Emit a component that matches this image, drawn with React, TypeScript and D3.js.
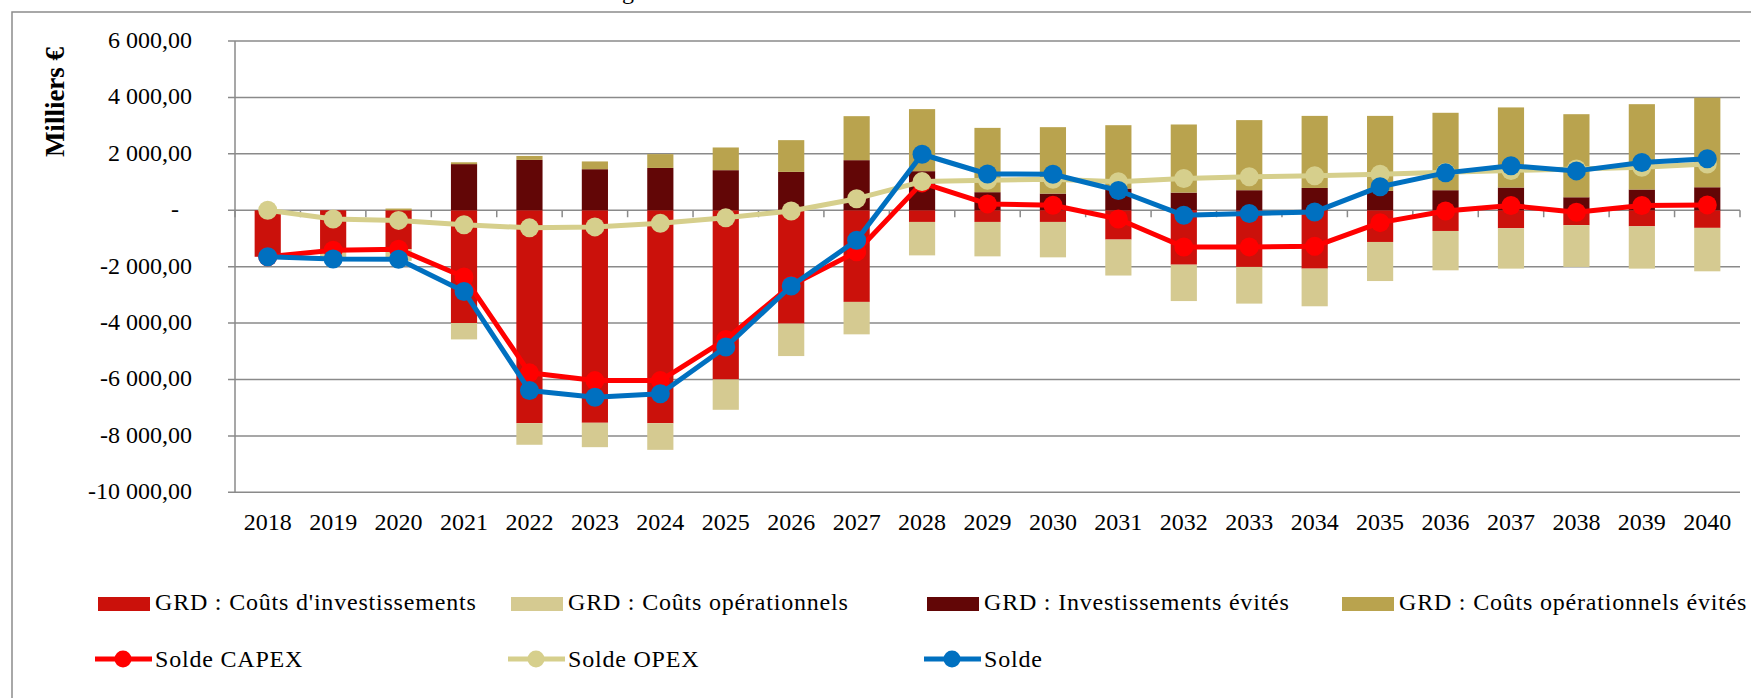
import React from "react";
import * as d3 from "d3";

const years = ["2018","2019","2020","2021","2022","2023","2024","2025","2026","2027","2028","2029","2030","2031","2032","2033","2034","2035","2036","2037","2038","2039","2040"];

// Stacked bars (thousand €)
const investCosts = [1650,1420,1380,4000,7550,7535,7550,6000,4020,3250,415,415,415,1040,1930,2010,2070,1125,735,640,530,570,625];
const opCosts = [0,310,420,580,765,865,945,1075,1150,1150,1185,1220,1255,1275,1290,1300,1335,1385,1395,1430,1480,1500,1540];
const avoidedInvest = [0,0,0,1635,1785,1455,1500,1420,1360,1775,1385,640,590,770,625,710,790,685,710,805,460,735,815];
const avoidedOpex = [0,0,60,65,140,275,490,805,1125,1560,2200,2280,2355,2245,2415,2485,2555,2660,2745,2840,2945,3025,3175];

// Lines
const soldeCapex = [-1650,-1420,-1380,-2365,-5765,-6040,-6040,-4580,-2660,-1475,970,225,175,-310,-1305,-1300,-1280,-440,-25,165,-70,165,190];
const soldeOpex = [0,-310,-360,-515,-625,-590,-465,-270,-25,410,1015,1060,1100,1010,1125,1185,1220,1275,1350,1410,1465,1525,1635];
const solde = [-1650,-1730,-1740,-2880,-6390,-6630,-6505,-4850,-2685,-1065,1985,1285,1275,700,-180,-115,-60,835,1325,1575,1395,1690,1825];

const yTicks = [6000,4000,2000,0,-2000,-4000,-6000,-8000,-10000];

const barLegend = [
  "GRD : Coûts d'investissements",
  "GRD : Coûts opérationnels",
  "GRD : Investissements évités",
  "GRD : Coûts opérationnels évités",
];
const lineLegend = ["Solde CAPEX", "Solde OPEX", "Solde"];

const C_INV = "#CB110B";
const C_OP = "#D5CA91";
const C_AINV = "#620606";
const C_AOP = "#B9A34E";
const C_CAPEX = "#FF0000";
const C_OPEX = "#D6CF8C";
const C_SOLDE = "#0070C0";

const FONT = "'Liberation Serif', 'Times New Roman', serif";

export default function App() {
  const W = 1751, H = 698;
  const left = 235, right = 1740, top = 41, bottom = 492.3;

  const x = d3.scaleBand<string>().domain(years).range([left, right]).paddingInner(0.6).paddingOuter(0.3);
  const y = d3.scaleLinear().domain([-10000, 6000]).range([bottom, top]);
  const step = x.step();
  const bw = x.bandwidth();
  const cx = (i: number) => (x(years[i]) as number) + bw / 2;

  const locale = d3.formatLocale({ decimal: ",", thousands: "\u00a0", grouping: [3], currency: ["", "€"], minus: "-" });
  const fmt = locale.format(",.2f");

  const lineGen = d3.line<number>().x((_, i) => cx(i)).y((v) => y(v));

  const lineSeries = [
    { vals: soldeCapex, color: C_CAPEX },
    { vals: soldeOpex, color: C_OPEX },
    { vals: solde, color: C_SOLDE },
  ];

  const legendCols = [98, 511, 927, 1342];
  const barColors = [C_INV, C_OP, C_AINV, C_AOP];
  const lineColors = [C_CAPEX, C_OPEX, C_SOLDE];

  return (
    <svg width={W} height={H} style={{ position: "absolute", left: 0, top: 0, background: "#fff" }} fontFamily={FONT}>
      <rect x={0} y={0} width={W} height={H} fill="#fff" />
      {/* cut-off title descender, as in the source */}
      <text x={622} y={-1} fontSize={24} fill="#000">g</text>
      {/* outer frame */}
      <rect x={12} y={12} width={W + 20} height={H + 20} fill="none" stroke="#8c8c8c" strokeWidth={1.5} />

      {/* gridlines */}
      {yTicks.map((t) => (
        <g key={t}>
          <line x1={left - 7} x2={right} y1={y(t)} y2={y(t)} stroke="#8a8a8a" strokeWidth={1.5} />
          {t === 0 ? (
            <text x={175} y={y(t) + 7} fontSize={24} textAnchor="middle" fill="#000">-</text>
          ) : (
            <text x={192} y={y(t) + 7} fontSize={24} textAnchor="end" fill="#000">{fmt(t)}</text>
          )}
        </g>
      ))}
      <line x1={left} x2={left} y1={top} y2={bottom} stroke="#8a8a8a" strokeWidth={1.5} />

      {/* bars */}
      {years.map((yr, i) => {
        const x0 = x(yr) as number;
        const r1 = investCosts[i], r2 = opCosts[i], p1 = avoidedInvest[i], p2 = avoidedOpex[i];
        return (
          <g key={yr}>
            <rect x={x0} width={bw} y={y(0)} height={y(-r1) - y(0)} fill={C_INV} />
            <rect x={x0} width={bw} y={y(-r1)} height={y(-r1 - r2) - y(-r1)} fill={C_OP} />
            <rect x={x0} width={bw} y={y(p1)} height={y(0) - y(p1)} fill={C_AINV} />
            <rect x={x0} width={bw} y={y(p1 + p2)} height={y(p1) - y(p1 + p2)} fill={C_AOP} />
          </g>
        );
      })}

      {/* category ticks */}
      {d3.range(years.length + 1).map((k) => (
        <line key={k} x1={left + k * step} x2={left + k * step} y1={y(0)} y2={y(0) + 7} stroke="#8a8a8a" strokeWidth={1.5} />
      ))}

      {/* lines */}
      {lineSeries.map((s, si) => (
        <g key={si}>
          <path d={lineGen(s.vals) || ""} fill="none" stroke={s.color} strokeWidth={5} strokeLinejoin="round" />
          {s.vals.map((v, i) => (
            <circle key={i} cx={cx(i)} cy={y(v)} r={9.5} fill={s.color} />
          ))}
        </g>
      ))}

      {/* year labels */}
      {years.map((yr, i) => (
        <text key={yr} x={cx(i)} y={530} fontSize={24} textAnchor="middle" fill="#000">{yr}</text>
      ))}

      {/* y axis title */}
      <text transform="translate(64,102) rotate(-90)" fontSize={27} fontWeight="bold" textAnchor="middle" fill="#000">Milliers €</text>

      {/* legend */}
      {barLegend.map((l, i) => (
        <g key={l}>
          <rect x={legendCols[i]} y={597} width={52} height={14} fill={barColors[i]} />
          <text x={legendCols[i] + 57} y={610} fontSize={24} letterSpacing={0.8} fill="#000">{l}</text>
        </g>
      ))}
      {lineLegend.map((l, i) => (
        <g key={l}>
          <line x1={legendCols[i] - 3} x2={legendCols[i] + 54} y1={659} y2={659} stroke={lineColors[i]} strokeWidth={5} />
          <circle cx={legendCols[i] + 25} cy={659} r={8.5} fill={lineColors[i]} />
          <text x={legendCols[i] + 57} y={667} fontSize={24} letterSpacing={0.8} fill="#000">{l}</text>
        </g>
      ))}
    </svg>
  );
}
